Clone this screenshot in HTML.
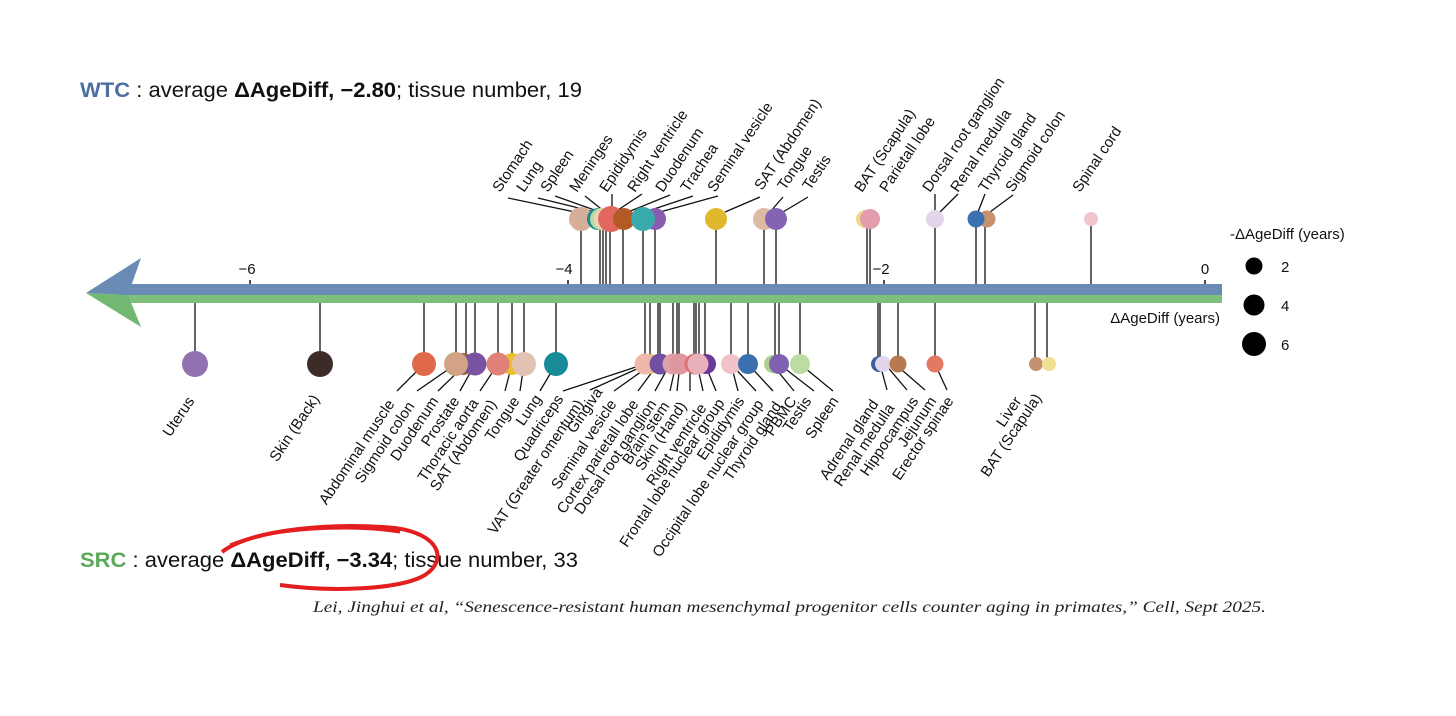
<!DOCTYPE html>
<html><head><meta charset="utf-8"><style>
body{margin:0;background:#fff}
svg{display:block;font-family:"Liberation Sans",Arial,sans-serif}
.t{font-size:15px;fill:#111}
</style></head><body>
<svg width="1456" height="716" viewBox="0 0 1456 716">
<!-- titles -->
<text x="80" y="97" font-size="21" fill="#111" textLength="502" lengthAdjust="spacingAndGlyphs"><tspan fill="#4a6fa0" font-weight="bold">WTC</tspan> : average <tspan font-weight="bold">ΔAgeDiff, −2.80</tspan>; tissue number, 19</text>
<text x="80" y="567" font-size="21" fill="#111" textLength="498" lengthAdjust="spacingAndGlyphs"><tspan fill="#5aaa5a" font-weight="bold">SRC</tspan> : average <tspan font-weight="bold">ΔAgeDiff, −3.34</tspan>; tissue number, 33</text>
<text x="313" y="612" font-size="16" font-style="italic" font-family="Liberation Serif,serif" fill="#222" textLength="953" lengthAdjust="spacingAndGlyphs">Lei, Jinghui et al, “Senescence-resistant human mesenchymal progenitor cells counter aging in primates,” Cell, Sept 2025.</text>
<path d="M222,552 C250,530 330,522 395,528 C440,534 448,560 425,575 C400,590 330,592 280,585" fill="none" stroke="#e41e1e" stroke-width="4"/>
<path d="M230,545 C270,528 350,524 400,532" fill="none" stroke="#e41e1e" stroke-width="3"/>

<!-- axis -->
<rect x="120" y="295" width="1102" height="8" fill="#7cc07c"/>
<rect x="120" y="284" width="1102" height="11" fill="#6a8bb5"/>
<polygon points="86,293 141,327 128,295" fill="#72b872"/>
<polygon points="86,293 141,258 128,295" fill="#6a8bb5"/>
<g class="t" font-size="16" text-anchor="middle">
<text x="247" y="274">−6</text><text x="564" y="274">−4</text><text x="881" y="274">−2</text><text x="1205" y="274">0</text>
</g>
<g stroke="#111" stroke-width="1.5"><line x1="250" y1="280" x2="250" y2="284"/><line x1="568" y1="280" x2="568" y2="284"/><line x1="884" y1="280" x2="884" y2="284"/><line x1="1205" y1="280" x2="1205" y2="284"/></g>
<text x="1220" y="323" class="t" font-size="16" text-anchor="end">ΔAgeDiff (years)</text>

<!-- legend -->
<text x="1230" y="239" class="t" font-size="16">-ΔAgeDiff (years)</text>
<circle cx="1254" cy="266" r="8.5" fill="#000"/><text x="1281" y="272" class="t" font-size="16">2</text>
<circle cx="1254" cy="305" r="10.5" fill="#000"/><text x="1281" y="311" class="t" font-size="16">4</text>
<circle cx="1254" cy="344" r="12" fill="#000"/><text x="1281" y="350" class="t" font-size="16">6</text>

<!-- top stems & leaders -->
<g stroke="#111" stroke-width="1.3" fill="none">
<line x1="581" y1="219" x2="581" y2="284"/><line x1="600" y1="219" x2="600" y2="284"/><line x1="603" y1="219" x2="603" y2="284"/><line x1="606" y1="219" x2="606" y2="284"/><line x1="610" y1="219" x2="610" y2="284"/><line x1="623" y1="219" x2="623" y2="284"/><line x1="643" y1="219" x2="643" y2="284"/><line x1="655" y1="219" x2="655" y2="284"/><line x1="716" y1="219" x2="716" y2="284"/><line x1="764" y1="219" x2="764" y2="284"/><line x1="776" y1="219" x2="776" y2="284"/><line x1="867" y1="219" x2="867" y2="284"/><line x1="870" y1="219" x2="870" y2="284"/><line x1="935" y1="219" x2="935" y2="284"/><line x1="976" y1="219" x2="976" y2="284"/><line x1="985" y1="219" x2="985" y2="284"/><line x1="1091" y1="219" x2="1091" y2="284"/>
<polyline points="508,198 575,212"/><polyline points="538,198 595,212"/><polyline points="555,196 600,212"/><polyline points="585,196 605,212"/><polyline points="612,194 612,210"/><polyline points="642,194 615,212"/><polyline points="670,195 628,212"/><polyline points="693,196 645,212"/><polyline points="718,196 660,212"/><polyline points="760,197 725,212"/><polyline points="783,197 770,212"/><polyline points="808,197 783,212"/><polyline points="935,194 935,212"/><polyline points="958,194 940,212"/><polyline points="985,194 978,212"/><polyline points="1013,195 990,212"/>
</g>
<!-- top circles -->
<circle cx="581" cy="219" r="12" fill="#d5af99"/><circle cx="598" cy="219" r="11" fill="#1a8c8e"/><circle cx="601" cy="219" r="11" fill="#b9dba2"/><circle cx="605" cy="219" r="11" fill="#efd3b4"/><circle cx="611" cy="219" r="13" fill="#e2675f"/><circle cx="624" cy="219" r="11" fill="#b15a26"/><circle cx="655" cy="219" r="11" fill="#8a5cb0"/><circle cx="643" cy="219" r="12" fill="#3aa9ab"/><circle cx="716" cy="219" r="11" fill="#e0b82e"/><circle cx="764" cy="219" r="11" fill="#dcbaa3"/><circle cx="776" cy="219" r="11" fill="#8464b2"/><circle cx="865" cy="219" r="9" fill="#eedb8a"/><circle cx="870" cy="219" r="10" fill="#e29cab"/><circle cx="935" cy="219" r="9" fill="#e2d6ec"/><circle cx="987" cy="219" r="8.5" fill="#c79270"/><circle cx="976" cy="219" r="8.5" fill="#3a71b0"/><circle cx="1091" cy="219" r="7" fill="#f2c4cc"/>
<!-- top labels -->
<g class="t">
<text transform="translate(500,193) rotate(-56)">Stomach</text>
<text transform="translate(524,193) rotate(-56)">Lung</text>
<text transform="translate(548,193) rotate(-56)">Spleen</text>
<text transform="translate(577,193) rotate(-56)">Meninges</text>
<text transform="translate(607,193) rotate(-56)">Epididymis</text>
<text transform="translate(635,193) rotate(-56)">Right ventricle</text>
<text transform="translate(663,193) rotate(-56)">Duodenum</text>
<text transform="translate(688,193) rotate(-56)">Trachea</text>
<text transform="translate(715,193) rotate(-56)">Seminal vesicle</text>
<text transform="translate(762,191) rotate(-56)">SAT (Abdomen)</text>
<text transform="translate(785,191) rotate(-56)">Tongue</text>
<text transform="translate(810,191) rotate(-56)">Testis</text>
<text transform="translate(862,193) rotate(-56)">BAT (Scapula)</text>
<text transform="translate(887,193) rotate(-56)">Parietall lobe</text>
<text transform="translate(930,193) rotate(-56)">Dorsal root ganglion</text>
<text transform="translate(958,193) rotate(-56)">Renal medulla</text>
<text transform="translate(986,193) rotate(-56)">Thyroid gland</text>
<text transform="translate(1013,193) rotate(-56)">Sigmoid colon</text>
<text transform="translate(1080,193) rotate(-56)">Spinal cord</text>
</g>

<!-- bottom stems & leaders -->
<g stroke="#111" stroke-width="1.3" fill="none">
<line x1="195" y1="303" x2="195" y2="364"/><line x1="320" y1="303" x2="320" y2="364"/><line x1="424" y1="303" x2="424" y2="364"/><line x1="456" y1="303" x2="456" y2="364"/><line x1="466" y1="303" x2="466" y2="364"/><line x1="475" y1="303" x2="475" y2="364"/><line x1="498" y1="303" x2="498" y2="364"/><line x1="512" y1="303" x2="512" y2="364"/><line x1="524" y1="303" x2="524" y2="364"/><line x1="556" y1="303" x2="556" y2="364"/>
<line x1="645" y1="303" x2="645" y2="364"/><line x1="650" y1="303" x2="650" y2="364"/><line x1="658" y1="303" x2="658" y2="364"/><line x1="660" y1="303" x2="660" y2="364"/><line x1="673" y1="303" x2="673" y2="364"/><line x1="677" y1="303" x2="677" y2="364"/><line x1="679" y1="303" x2="679" y2="364"/><line x1="694" y1="303" x2="694" y2="364"/><line x1="696" y1="303" x2="696" y2="364"/><line x1="699" y1="303" x2="699" y2="364"/><line x1="705" y1="303" x2="705" y2="364"/><line x1="731" y1="303" x2="731" y2="364"/><line x1="748" y1="303" x2="748" y2="364"/><line x1="775" y1="303" x2="775" y2="364"/><line x1="779" y1="303" x2="779" y2="364"/><line x1="800" y1="303" x2="800" y2="364"/>
<line x1="878" y1="303" x2="878" y2="364"/><line x1="880" y1="303" x2="880" y2="364"/><line x1="898" y1="303" x2="898" y2="364"/><line x1="935" y1="303" x2="935" y2="364"/><line x1="1035" y1="303" x2="1035" y2="364"/><line x1="1047" y1="303" x2="1047" y2="364"/>
<polyline points="424,364 397,391"/><polyline points="456,364 417,391"/><polyline points="466,364 438,391"/><polyline points="475,364 460,391"/><polyline points="498,364 480,391"/><polyline points="512,364 505,391"/><polyline points="524,364 520,391"/><polyline points="556,364 540,391"/><polyline points="645,364 563,391"/><polyline points="648,364 590,390"/><polyline points="652,364 614,391"/><polyline points="658,364 638,391"/><polyline points="670,364 655,391"/><polyline points="676,364 670,391"/><polyline points="680,364 677,391"/><polyline points="690,364 690,391"/><polyline points="697,364 703,391"/><polyline points="705,364 716,391"/><polyline points="731,364 738,391"/><polyline points="731,364 756,391"/><polyline points="748,364 773,391"/><polyline points="772,364 794,391"/><polyline points="779,364 814,391"/><polyline points="800,364 833,391"/><polyline points="880,364 887,390"/><polyline points="885,364 907,390"/><polyline points="895,364 925,390"/><polyline points="935,364 947,390"/>
</g>
<!-- bottom circles -->
<circle cx="195" cy="364" r="13" fill="#9271b1"/><circle cx="320" cy="364" r="13" fill="#3d2b28"/><circle cx="424" cy="364" r="12" fill="#e0684a"/><circle cx="463" cy="364" r="11" fill="#9a6040"/><circle cx="475" cy="364" r="11.5" fill="#7a52a2"/><circle cx="456" cy="364" r="12" fill="#d2a485"/><circle cx="512" cy="364" r="11" fill="#e8c030"/><circle cx="498" cy="364" r="11.5" fill="#e08078"/><circle cx="524" cy="364" r="12" fill="#e2c2b2"/><circle cx="556" cy="364" r="12" fill="#178b98"/>
<circle cx="650" cy="364" r="10" fill="#e8c060"/><circle cx="645" cy="364" r="10.5" fill="#f0b8a8"/><circle cx="660" cy="364" r="10.5" fill="#7050a0"/><circle cx="673" cy="364" r="10.5" fill="#e0a0a8"/><circle cx="680" cy="364" r="10.5" fill="#e0969e"/><circle cx="695" cy="364" r="10.5" fill="#e07070"/><circle cx="706" cy="364" r="10" fill="#6a3a98"/><circle cx="698" cy="364" r="10.5" fill="#e8b0b8"/><circle cx="731" cy="364" r="10" fill="#f0c2ca"/><circle cx="748" cy="364" r="10" fill="#3a70b0"/><circle cx="773" cy="364" r="9" fill="#b0d090"/><circle cx="779" cy="364" r="10" fill="#8060b0"/><circle cx="800" cy="364" r="10" fill="#bcdca2"/>
<circle cx="879" cy="364" r="8" fill="#3a60a0"/><circle cx="883" cy="364" r="8" fill="#e2d6ec"/><circle cx="898" cy="364" r="8.5" fill="#b87850"/><circle cx="935" cy="364" r="8.5" fill="#e27a62"/><circle cx="1036" cy="364" r="7" fill="#c49070"/><circle cx="1049" cy="364" r="7" fill="#f0e090"/>
<!-- bottom labels -->
<g class="t" text-anchor="end">
<text transform="translate(195,401) rotate(-56)">Uterus</text>
<text transform="translate(320,399) rotate(-56)">Skin (Back)</text>
<text transform="translate(395,404) rotate(-56)">Abdominal muscle</text>
<text transform="translate(415,406) rotate(-56)">Sigmoid colon</text>
<text transform="translate(439,401) rotate(-56)">Duodenum</text>
<text transform="translate(460,401) rotate(-56)">Prostate</text>
<text transform="translate(479,403) rotate(-56)">Thoracic aorta</text>
<text transform="translate(497,404) rotate(-56)">SAT (Abdomen)</text>
<text transform="translate(520,401) rotate(-56)">Tongue</text>
<text transform="translate(542,399) rotate(-56)">Lung</text>
<text transform="translate(564,399) rotate(-56)">Quadriceps</text>
<text transform="translate(584,404) rotate(-56)">VAT (Greater omentum)</text>
<text transform="translate(603,392) rotate(-56)">Gingiva</text>
<text transform="translate(617,404) rotate(-56)">Seminal vesicle</text>
<text transform="translate(639,404) rotate(-56)">Cortex parietall lobe</text>
<text transform="translate(657,404) rotate(-56)">Dorsal root ganglion</text>
<text transform="translate(670,406) rotate(-56)">Brain stem</text>
<text transform="translate(687,406) rotate(-56)">Skin (Hand)</text>
<text transform="translate(707,408) rotate(-56)">Right ventricle</text>
<text transform="translate(725,403) rotate(-56)">Frontal lobe nuclear group</text>
<text transform="translate(745,401) rotate(-56)">Epididymis</text>
<text transform="translate(764,404) rotate(-56)">Occipital lobe nuclear group</text>
<text transform="translate(782,406) rotate(-56)">Thyroid gland</text>
<text transform="translate(797,401) rotate(-56)">PBMC</text>
<text transform="translate(812,401) rotate(-56)">Testis</text>
<text transform="translate(839,401) rotate(-56)">Spleen</text>
<text transform="translate(879,404) rotate(-56)">Adrenal gland</text>
<text transform="translate(895,408) rotate(-56)">Renal medulla</text>
<text transform="translate(919,401) rotate(-56)">Hippocampus</text>
<text transform="translate(937,401) rotate(-56)">Jejunum</text>
<text transform="translate(954,401) rotate(-56)">Erector spinae</text>
<text transform="translate(1022,401) rotate(-56)">Liver</text>
<text transform="translate(1042,398) rotate(-56)">BAT (Scapula)</text>
</g>
</svg>
</body></html>
